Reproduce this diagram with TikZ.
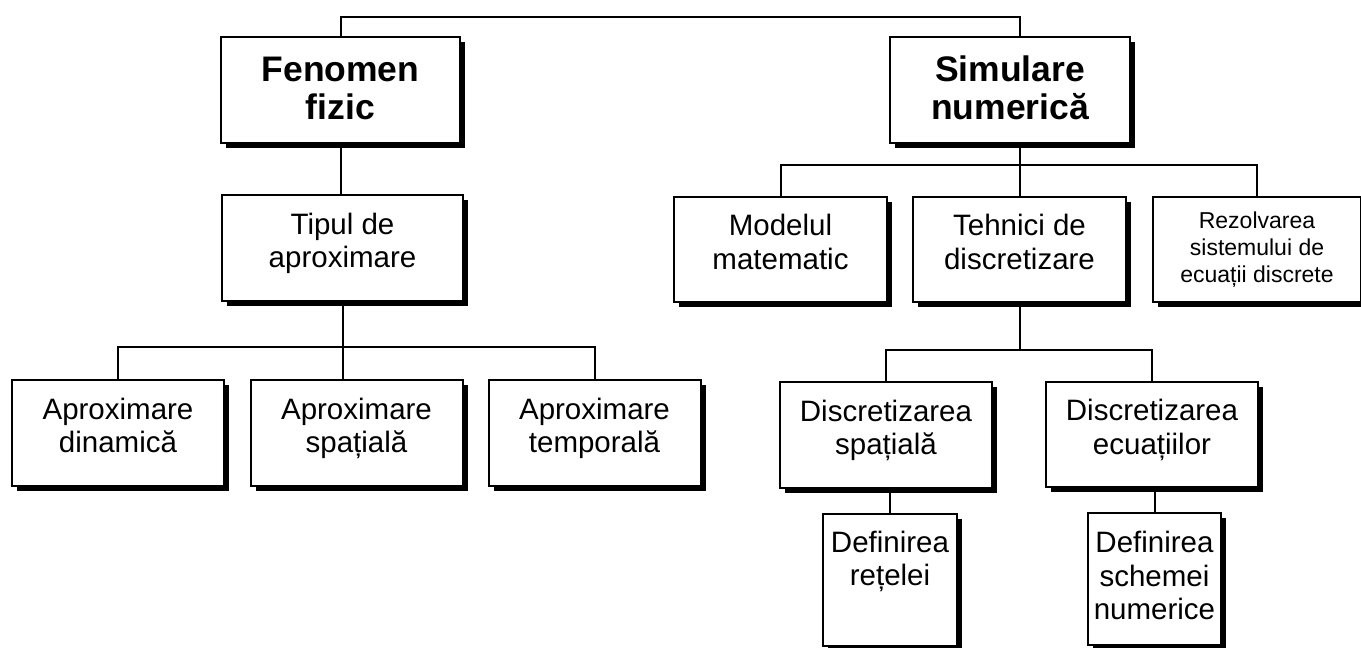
\documentclass[tikz,border=0pt]{standalone}
\usepackage{fontspec}
\setmainfont{Liberation Sans}
\usetikzlibrary{shadows}

\begin{document}
\begin{tikzpicture}[x=1pt,y=-1pt,line width=2pt,
  box/.style={draw,fill=white,align=center,inner sep=4pt,
    minimum width=212,minimum height=106,text depth=15pt,
    drop shadow={fill=black,opacity=1,shadow xshift=5pt,shadow yshift=-5pt},
    font=\fontsize{29.5}{33.5}\selectfont},
  headbox/.style={box,minimum width=240,text depth=4pt,font=\fontsize{35.5}{38}\selectfont\bfseries},
  smallbox/.style={box,text depth=5pt,font=\fontsize{23}{27}\selectfont}]
  \useasboundingbox (0,0) rectangle (1361,648);

  % left branch
  \node[headbox,minimum width=239] (fen) at (340.5,90) {Fenomen\\fizic};
  \node[box,minimum width=241] (tip) at (342.5,248) {Tipul de\\aproximare};
  \foreach \n/\x/\t in {dyn/118/dinamică,spa/356.5/spațială,tem/594.5/temporală}
    \node[box] (\n) at (\x,433) {Aproximare\\\t};

  % right branch
  \node[headbox] (sim) at (1010,90) {Simulare\\numerică};
  \node[box,minimum width=213,minimum height=105] (mod) at (780.5,249.5) {Modelul\\matematic};
  \node[box,minimum width=213,minimum height=105] (teh) at (1019.5,249.5) {Tehnici de\\discretizare};
  \node[smallbox,minimum width=208,minimum height=105] (rez) at (1257,249.5) {Rezolvarea\\sistemului de\\ecuații discrete};
  \node[box] (dsp) at (886,435) {Discretizarea\\spațială};
  \node[box,minimum height=105] (dec) at (1152,434.5) {Discretizarea\\ecuațiilor};
  \node[box,minimum width=134,minimum height=132,text depth=43pt] (dre) at (890,580) {Definirea\\rețelei};
  \node[box,minimum width=133,minimum height=132,text depth=7pt] (dsc) at (1154.5,579) {Definirea\\schemei\\numerice};

  % bus levels
  \coordinate (topbus) at (0,17);
  \coordinate (simbus) at (0,165);
  \coordinate (tipbus) at (0,347);
  \coordinate (tehbus) at (0,350);

  \draw (fen.north) |- (topbus -| teh.north) -- (sim.north -| teh.north);
  \draw (fen.south) -- (fen.south |- tip.north);
  \draw (tip.south) -- (tip.south |- spa.north);
  \draw (dyn.north) |- (tip.south |- tipbus) -| (tem.north);
  \draw (sim.south -| teh.north) -- (teh.north);
  \draw (mod.north) |- (teh.north |- simbus) -| (rez.north);
  \draw (teh.south) -- (teh.south |- tehbus);
  \draw (dsp.north) |- (teh.south |- tehbus) -| (dec.north);
  \draw (dre.north |- dsp.south) -- (dre.north);
  \draw (dsc.north |- dec.south) -- (dsc.north);
\end{tikzpicture}
\end{document}
